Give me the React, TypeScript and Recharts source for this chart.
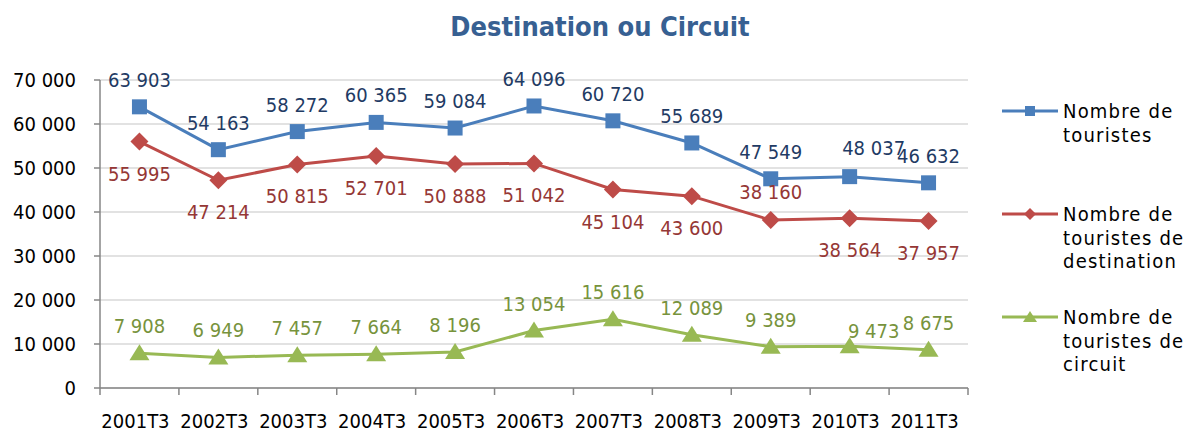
import React from "react";
import {
  LineChart,
  Line,
  XAxis,
  YAxis,
  CartesianGrid,
  LabelList,
} from "recharts";

const categories = [
  "2001T3", "2002T3", "2003T3", "2004T3", "2005T3", "2006T3",
  "2007T3", "2008T3", "2009T3", "2010T3", "2011T3",
];
const touristes = [63903, 54163, 58272, 60365, 59084, 64096, 60720, 55689, 47549, 48037, 46632];
const destination = [55995, 47214, 50815, 52701, 50888, 51042, 45104, 43600, 38160, 38564, 37957];
const circuit = [7908, 6949, 7457, 7664, 8196, 13054, 15616, 12089, 9389, 9473, 8675];
const yTicks = [0, 10000, 20000, 30000, 40000, 50000, 60000, 70000];

const data = categories.map((cat, i) => ({
  cat,
  touristes: touristes[i],
  destination: destination[i],
  circuit: circuit[i],
}));

const FONT = "'DejaVu Sans Condensed', 'DejaVu Sans', sans-serif";
const FS = 20;
const AXIS = "#868686";

const BLUE = "#4a7ebb";
const RED = "#be4b48";
const GREEN = "#98b954";

const PLOT_W = 868;
const BAND = PLOT_W / categories.length;

const fmt = (v: number) => String(v).replace(/\B(?=(\d{3})+(?!\d))/g, " ");

// label side (-1 above, 1 below) and hand-moved labels like in the original sheet
const ABOVE = -27;
const BELOW = 32;
const labelCfg: Record<string, { side: number; color: string; moved: Record<number, [number, number]> }> = {
  touristes: { side: ABOVE, color: "#1f3b64", moved: { 9: [24, -2] } },
  destination: { side: BELOW, color: "#953735", moved: { 8: [0, -60] } },
  circuit: { side: ABOVE, color: "#77933c", moved: { 9: [24, 12] } },
};

const makeLabel = (key: string) => (props: any) => {
  const { x, y, value, index } = props;
  const cfg = labelCfg[key];
  const [dx, dy] = cfg.moved[index] || [0, 0];
  return (
    <text
      key={`${key}-l-${index}`}
      x={x + dx}
      y={y + cfg.side + dy}
      textAnchor="middle"
      dominantBaseline="central"
      fill={cfg.color}
      fontSize={FS}
      fontFamily={FONT}
    >
      {fmt(value)}
    </text>
  );
};

const SquareDot = (props: any) => {
  const { cx, cy, index } = props;
  return <rect key={`sq-${index}`} x={cx - 7.5} y={cy - 7.5} width={15} height={15} fill={BLUE} />;
};

const DiamondDot = (props: any) => {
  const { cx, cy, index } = props;
  const r = 9;
  return (
    <polygon
      key={`dm-${index}`}
      points={`${cx},${cy - r} ${cx + r},${cy} ${cx},${cy + r} ${cx - r},${cy}`}
      fill={RED}
    />
  );
};

const TriDot = (props: any) => {
  const { cx, cy, index } = props;
  return (
    <polygon
      key={`tr-${index}`}
      points={`${cx},${cy - 9} ${cx + 10},${cy + 7} ${cx - 10},${cy + 7}`}
      fill={GREEN}
    />
  );
};

const XTick = (props: any) => {
  const { x, y, payload, index } = props;
  const top = y - 26;
  return (
    <g>
      <line x1={x - BAND / 2} x2={x - BAND / 2} y1={top} y2={top + 7} stroke={AXIS} strokeWidth={1.5} />
      {index === categories.length - 1 && (
        <line x1={x + BAND / 2} x2={x + BAND / 2} y1={top} y2={top + 7} stroke={AXIS} strokeWidth={1.5} />
      )}
      <text x={x - 4} y={y} dy="0.71em" textAnchor="middle" fill="#000" fontSize={FS} fontFamily={FONT}>
        {payload.value}
      </text>
    </g>
  );
};

const legendItems = [
  { lines: ["Nombre de", "touristes"], color: BLUE, y: 111, shape: "square" },
  { lines: ["Nombre de", "touristes de", "destination"], color: RED, y: 214, shape: "diamond" },
  { lines: ["Nombre de", "touristes de", "circuit"], color: GREEN, y: 317, shape: "tri" },
];

function LegendMarker({ shape, color, y }: { shape: string; color: string; y: number }) {
  const cx = 1030;
  if (shape === "square") return <rect x={cx - 5} y={y - 5} width={10} height={10} fill={color} />;
  if (shape === "diamond")
    return <polygon points={`${cx},${y - 6} ${cx + 6},${y} ${cx},${y + 6} ${cx - 6},${y}`} fill={color} />;
  return <polygon points={`${cx},${y - 6} ${cx + 7},${y + 5} ${cx - 7},${y + 5}`} fill={color} />;
}

export default function App() {
  return (
    <div style={{ position: "absolute", left: 0, top: 0, width: 1190, height: 432, background: "#fff" }}>
      <LineChart
        width={1190}
        height={432}
        data={data}
        margin={{ top: 80, right: 222, bottom: 0, left: 0 }}
      >
        <CartesianGrid vertical={false} stroke="#d9d9d9" strokeWidth={1.5} />
        <XAxis
          dataKey="cat"
          height={44}
          interval={0}
          padding={{ left: BAND / 2, right: BAND / 2 }}
          tickLine={false}
          tickSize={7}
          tickMargin={19}
          axisLine={{ stroke: AXIS, strokeWidth: 1.5 }}
          tick={<XTick />}
        />
        <YAxis
          width={100}
          domain={[0, 70000]}
          ticks={yTicks}
          interval={0}
          tickFormatter={fmt}
          tickSize={6}
          tickMargin={18}
          axisLine={{ stroke: AXIS, strokeWidth: 1.5 }}
          tickLine={{ stroke: AXIS, strokeWidth: 1.5 }}
          tick={{ fill: "#000", fontSize: FS, fontFamily: FONT }}
        />
        <Line
          dataKey="touristes"
          type="linear"
          stroke={BLUE}
          strokeWidth={3}
          dot={SquareDot}
          activeDot={false}
          isAnimationActive={false}
        >
          <LabelList dataKey="touristes" content={makeLabel("touristes")} />
        </Line>
        <Line
          dataKey="destination"
          type="linear"
          stroke={RED}
          strokeWidth={3}
          dot={DiamondDot}
          activeDot={false}
          isAnimationActive={false}
        >
          <LabelList dataKey="destination" content={makeLabel("destination")} />
        </Line>
        <Line
          dataKey="circuit"
          type="linear"
          stroke={GREEN}
          strokeWidth={3}
          dot={TriDot}
          activeDot={false}
          isAnimationActive={false}
        >
          <LabelList dataKey="circuit" content={makeLabel("circuit")} />
        </Line>
      </LineChart>
      <svg
        width={1190}
        height={432}
        style={{ position: "absolute", left: 0, top: 0, pointerEvents: "none" }}
      >
        <text
          x={600}
          y={36}
          textAnchor="middle"
          fill="#376092"
          fontSize={27}
          fontWeight="bold"
          fontFamily={FONT}
        >
          Destination ou Circuit
        </text>
        {legendItems.map((it) => (
          <g key={it.shape}>
            <line x1={1002} x2={1058} y1={it.y} y2={it.y} stroke={it.color} strokeWidth={3} />
            <LegendMarker shape={it.shape} color={it.color} y={it.y} />
            {it.lines.map((ln, j) => (
              <text
                key={ln + j}
                x={1063}
                y={it.y + j * 23.5}
                dominantBaseline="central"
                fill="#000"
                fontSize={FS}
                letterSpacing={1.2}
                fontFamily={FONT}
              >
                {ln}
              </text>
            ))}
          </g>
        ))}
      </svg>
    </div>
  );
}
